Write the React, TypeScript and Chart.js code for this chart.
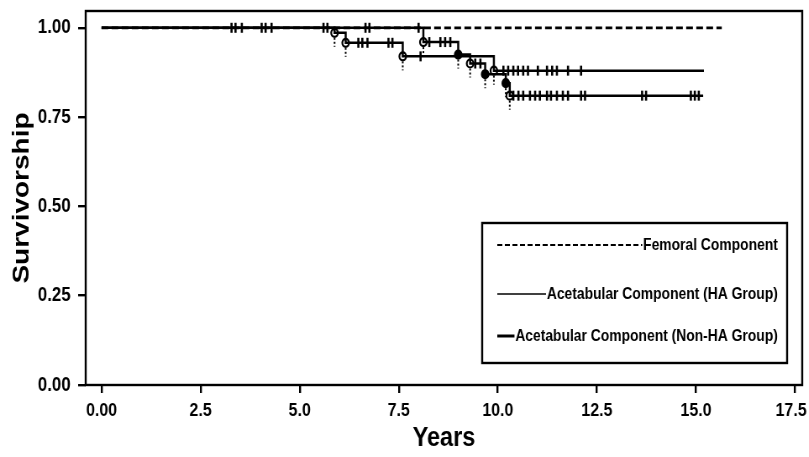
import React, { useEffect, useRef } from "react";
import { Chart, registerables } from "chart.js";

Chart.register(...registerables);

// ---- axis ticks ----
const xTicks = [0, 2.5, 5, 7.5, 10, 12.5, 15, 17.5];
const yTicks = [0, 0.25, 0.5, 0.75, 1.0];

// ---- Femoral component (no failures) ----
const femoralTimes = [0, 15.65];
const femoralSurv = [1.0, 1.0];

// censor marks on the shared 1.00 level
const topCensorX = [3.28, 3.38, 3.54, 4.04, 4.14, 4.29, 5.6, 5.7, 6.66, 6.76, 8.0];
const topCensorY = [1, 1, 1, 1, 1, 1, 1, 1, 1, 1, 1];

// ---- Acetabular component (HA group) ----
const haTimes = [0, 5.88, 6.16, 7.6, 9.9, 15.2];
const haSurv = [1.0, 0.986, 0.958, 0.92, 0.88, 0.88];
const haDropFilled = [false, false, false, false];
const haCensorX = [6.48, 6.58, 6.71, 7.24, 7.34, 8.05, 10.14, 10.26, 10.39, 10.51, 10.64, 10.76, 11.01, 11.24, 11.37, 11.49, 11.77, 12.1];
const haCensorY = [0.958, 0.958, 0.958, 0.958, 0.958, 0.92, 0.88, 0.88, 0.88, 0.88, 0.88, 0.88, 0.88, 0.88, 0.88, 0.88, 0.88, 0.88];

// ---- Acetabular component (Non-HA group) ----
const nonTimes = [0, 8.12, 9.0, 9.3, 9.68, 10.2, 10.3, 15.18];
const nonSurv = [1.0, 0.96, 0.925, 0.9, 0.87, 0.845, 0.81, 0.81];
const nonDropFilled = [false, true, false, true, true, false];
const nonCensorX = [8.27, 8.55, 8.67, 8.8, 9.43, 9.56, 10.39, 10.52, 10.64, 10.81, 10.94, 11.06, 11.24, 11.34, 11.49, 11.64, 11.77, 12.1, 12.2, 13.64, 13.74, 14.87, 14.97, 15.07];
const nonCensorY = [0.96, 0.96, 0.96, 0.96, 0.9, 0.9, 0.81, 0.81, 0.81, 0.81, 0.81, 0.81, 0.81, 0.81, 0.81, 0.81, 0.81, 0.81, 0.81, 0.81, 0.81, 0.81, 0.81, 0.81];

// ---- legend labels ----
const legendLabels = ["Femoral Component", "Acetabular Component (HA Group)", "Acetabular Component (Non-HA Group)"];

const FONT = "'Liberation Sans', Arial, sans-serif";
// the original figure is horizontally compressed; draw wider and squeeze
const SQUEEZE = 0.84;
const W = 963;
const H = 457;

function pairs(xs: number[], ys: number[]) {
  return xs.map((x, i) => ({ x, y: ys[i] }));
}

function drops(xs: number[], ys: number[]) {
  // event points (excluding start and final censored end)
  return xs.slice(1, -1).map((x, i) => ({ x, y: ys[i + 1] }));
}

const framePlugin = {
  id: "frameAndLegend",
  afterDatasetsDraw(chart: any) {
    const { ctx, chartArea } = chart;
    const xs = chart.scales.x;
    const ys = chart.scales.y;
    ctx.save();
    // dotted whiskers under event circles
    ctx.strokeStyle = "#000";
    ctx.lineWidth = 2;
    ctx.setLineDash([2, 2]);
    const evs = [...drops(haTimes, haSurv), ...drops(nonTimes, nonSurv)];
    evs.forEach((p) => {
      const px = xs.getPixelForValue(p.x);
      const py = ys.getPixelForValue(p.y);
      ctx.beginPath();
      ctx.moveTo(px, py + 5);
      ctx.lineTo(px, py + 14);
      ctx.stroke();
    });
    ctx.setLineDash([]);
    // frame
    ctx.lineWidth = 2.4;
    ctx.strokeRect(chartArea.left, chartArea.top, chartArea.right - chartArea.left, chartArea.bottom - chartArea.top);
    // legend box
    const bx = 574, by = 223, bw = 363, bh = 140;
    ctx.fillStyle = "#fff";
    ctx.fillRect(bx, by, bw, bh);
    ctx.lineWidth = 2.4;
    ctx.strokeRect(bx, by, bw, bh);
    ctx.fillStyle = "#000";
    ctx.font = "bold 16.5px " + FONT;
    ctx.textAlign = "right";
    ctx.textBaseline = "middle";
    const tx = 926;
    const rows = [245, 294, 336];
    const lw = [2, 1.5, 3];
    const dashes = [[6, 3], [], []];
    rows.forEach((ry, i) => {
      const w = ctx.measureText(legendLabels[i]).width;
      ctx.beginPath();
      ctx.setLineDash(dashes[i]);
      ctx.lineWidth = lw[i];
      ctx.moveTo(592, ry);
      ctx.lineTo(Math.max(600, tx - w - 1), ry);
      ctx.stroke();
      ctx.setLineDash([]);
      ctx.fillText(legendLabels[i], tx, ry);
    });
    ctx.restore();
  },
};

export default function App() {
  const ref = useRef<HTMLCanvasElement>(null);
  useEffect(() => {
    document.body.style.margin = "0";
    const censorStyle = {
      showLine: false,
      pointStyle: "line" as const,
      rotation: 90,
      pointRadius: 5,
      pointBorderWidth: 2.6,
      borderColor: "#000",
      backgroundColor: "#000",
    };
    const stepStyle = {
      showLine: true,
      stepped: "before" as const,
      pointRadius: 0,
      borderColor: "#000",
      backgroundColor: "#000",
      fill: false,
    };
    const chart = new Chart(ref.current as HTMLCanvasElement, {
      type: "scatter",
      data: {
        datasets: [
          { ...stepStyle, label: legendLabels[0], data: pairs(femoralTimes, femoralSurv), borderWidth: 2.8, borderDash: [8, 4] },
          { ...stepStyle, label: legendLabels[1], data: pairs(haTimes, haSurv), borderWidth: 2.5 },
          { ...stepStyle, label: legendLabels[2], data: pairs(nonTimes, nonSurv), borderWidth: 2.5 },
          { ...censorStyle, label: "c0", data: pairs(topCensorX, topCensorY) },
          { ...censorStyle, label: "c1", data: pairs(haCensorX, haCensorY) },
          { ...censorStyle, label: "c2", data: pairs(nonCensorX, nonCensorY) },
          {
            label: "e1",
            data: drops(haTimes, haSurv),
            showLine: false,
            pointStyle: "circle",
            pointRadius: 4,
            pointBorderWidth: 2.2,
            borderColor: "#000",
            backgroundColor: haDropFilled.map((f) => (f ? "#000" : "#fff")),
          },
          {
            label: "e2",
            data: drops(nonTimes, nonSurv),
            showLine: false,
            pointStyle: "circle",
            pointRadius: 4,
            pointBorderWidth: 2.2,
            borderColor: "#000",
            backgroundColor: nonDropFilled.map((f) => (f ? "#000" : "#fff")),
          },
        ],
      },
      options: {
        responsive: false,
        animation: false,
        layout: { padding: { top: 11, right: 8, left: 0, bottom: 0 } },
        plugins: { legend: { display: false }, tooltip: { enabled: false } },
        scales: {
          x: {
            type: "linear",
            min: -0.4,
            max: 17.68,
            afterBuildTicks: (s: any) => {
              s.ticks = xTicks.map((v) => ({ value: v }));
            },
            afterFit: (s: any) => {
              s.height = 72;
              s.paddingLeft = 0;
              s.paddingRight = 0;
            },
            border: { display: false },
            grid: { drawOnChartArea: false, drawTicks: true, tickLength: 8, color: "#000", lineWidth: 2.4 },
            ticks: {
              color: "#000",
              padding: 6,
              maxRotation: 0,
              autoSkip: false,
              font: { family: FONT, size: 19, weight: "bold" },
              callback: (v: any) =>
                v === 0 ? "0.00" : v === 17.5 ? Number(v).toFixed(1) + "\u2002" : Number(v).toFixed(1),
            },
            title: {
              display: true,
              text: "Years",
              color: "#000",
              font: { family: FONT, size: 28, weight: "bold" },
              padding: { top: 0, bottom: 2 },
            },
          },
          y: {
            type: "linear",
            min: 0,
            max: 1.047,
            afterBuildTicks: (s: any) => {
              s.ticks = yTicks.map((v) => ({ value: v }));
            },
            afterFit: (s: any) => {
              s.width = 102;
              s.paddingTop = 0;
              s.paddingBottom = 0;
            },
            border: { display: false },
            grid: { drawOnChartArea: false, drawTicks: true, tickLength: 9, color: "#000", lineWidth: 2.4 },
            ticks: {
              color: "#000",
              padding: 9,
              autoSkip: false,
              font: { family: FONT, size: 20, weight: "bold" },
              callback: (v: any) => Number(v).toFixed(2),
            },
            title: {
              display: true,
              text: "Survivorship",
              color: "#000",
              font: { family: FONT, size: 28, weight: "bold" },
              padding: { top: 9, bottom: 0 },
            },
          },
        },
      },
      plugins: [framePlugin],
    });
    return () => chart.destroy();
  }, []);
  return (
    <div style={{ position: "absolute", left: 0, top: 0, width: 809, height: H, overflow: "hidden", background: "#fff" }}>
      <div style={{ width: W, height: H, transform: `scaleX(${SQUEEZE})`, transformOrigin: "0 0" }}>
        <canvas ref={ref} width={W} height={H} style={{ display: "block" }} />
      </div>
    </div>
  );
}
